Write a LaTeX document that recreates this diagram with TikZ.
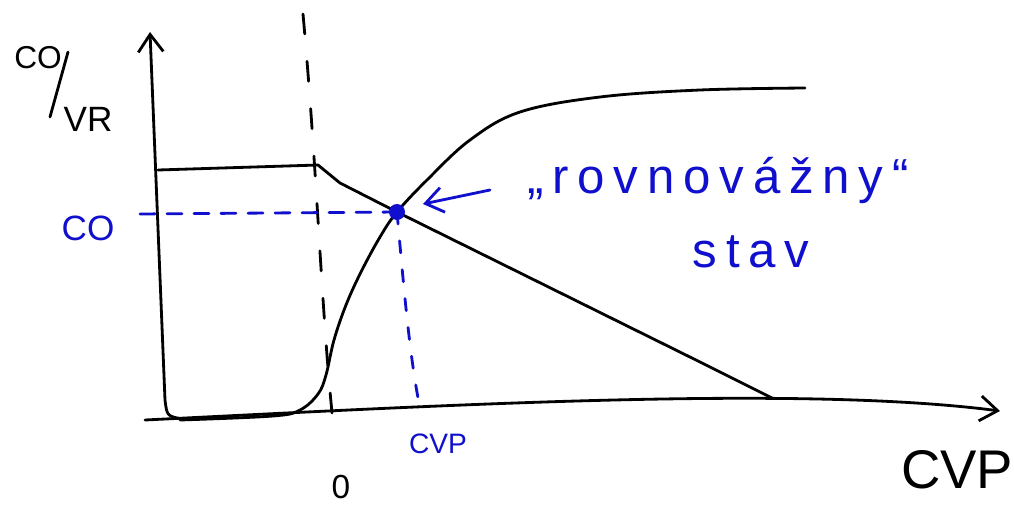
\documentclass[tikz,border=0pt]{standalone}
\usepackage{fontspec}
\setmainfont{Liberation Sans}
\newfontfamily\spacedfont[LetterSpace=18]{Liberation Sans}
\usetikzlibrary{arrows.meta}
\definecolor{penblue}{RGB}{15,15,205}
\tikzset{
    pen/.style={line width=1.6pt, line cap=round, line join=round},
    bluepen/.style={pen, penblue},
    bluetext/.style={text=penblue, inner sep=0pt},
    blacktext/.style={inner sep=0pt},
}
\begin{document}
\begin{tikzpicture}[x=0.2mm, y=-0.2mm, >={Straight Barb[length=3.5mm,width=5mm]}]
    \useasboundingbox (0,0) rectangle (1014,507);
    \coordinate (ytip) at (150,32);
    \coordinate (yfoot) at (165,400);
    \coordinate (ycorner) at (182,419);
    \coordinate (xleft) at (145,420);
    \coordinate (xtip) at (1000,411);
    \coordinate (dtop) at (303,14);
    \coordinate (dbot) at (335,440);
    \coordinate (lstart) at (158,170);
    \coordinate (kink) at (318,165);
    \coordinate (lend) at (772,398);
    \coordinate (eq) at (397,212);
    \coordinate (coend) at (140,214);
    \coordinate (cvpend) at (420,408);
    \coordinate (arrowtail) at (490,190);
    \coordinate (arrowhead) at (423,204);
    \coordinate (slashtop) at (68,52);
    \coordinate (slashbot) at (50,117);
    \draw[pen,<-] (ytip) -- (yfoot) .. controls (167,416) .. (ycorner);
    \draw[pen,->] (xleft) .. controls (450,405) and (800,385) .. (xtip);
    \draw[pen,dash pattern=on 4mm off 5.5mm] (dtop) .. controls (318,180) and (322,330) .. (dbot);
    \draw[pen] (lstart) -- (kink) -- (340,183) -- (eq) -- (700,362) -- (lend);
    \draw[pen] plot[smooth, tension=0.6] coordinates {(180,420) (273,416) (300,410) (318,394) (326,375) (334,340) (346,305) (361,272) (380,237) (eq) (427,180) (470,140) (520,112) (600,97) (700,90) (805,88)};
    \draw[bluepen,dash pattern=on 3mm off 2.4mm] (coend) -- (eq);
    \draw[bluepen,dash pattern=on 2.4mm off 3.4mm] (eq) .. controls (404,290) and (410,360) .. (cvpend);
    \node[circle, fill=penblue, minimum size=3.2mm, inner sep=0pt] (eqdot) at (eq) {};
    \draw[bluepen,->] (arrowtail) -- (arrowhead);
    \node[blacktext, font=\fontsize{18}{22}\selectfont] (colabeltop) at (38,58) {CO};
    \draw[pen] (slashtop) -- (slashbot);
    \node[blacktext, font=\fontsize{20}{24}\selectfont] (vrlabel) at (88,119) {VR};
    \node[bluetext, font=\fontsize{20}{24}\selectfont] (colabel) at (88,228) {CO};
    \node[bluetext, font=\fontsize{16}{20}\selectfont] (cvplabel) at (438,444) {CVP};
    \node[blacktext, font=\fontsize{19}{23}\selectfont] (zerolabel) at (341,487) {0};
    \node[blacktext, font=\fontsize{31}{36}\selectfont] (cvpaxis) at (957,470) {CVP};
    \node[bluetext, anchor=base, font=\spacedfont\fontsize{28}{34}\selectfont] (eqtext) at (718,193) {„rovnovážny“};
    \node[bluetext, anchor=base, font=\spacedfont\fontsize{28}{34}\selectfont] (stavtext) at (751,267) {stav};
\end{tikzpicture}
\end{document}
